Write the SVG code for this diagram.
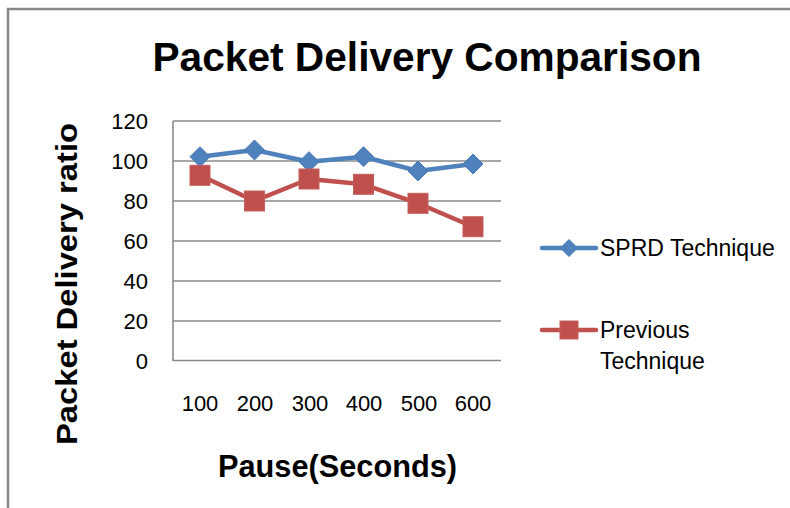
<svg xmlns="http://www.w3.org/2000/svg" width="790" height="508" viewBox="0 0 790 508">
<style>
.grid{stroke:#8a8a8a;stroke-width:1.6;fill:none}
.tick{font-family:"Liberation Sans",Arial,sans-serif;font-size:22px;fill:#000}
.ttl{font-family:"Liberation Sans",Arial,sans-serif;font-weight:bold;fill:#000}
.leg{font-family:"Liberation Sans",Arial,sans-serif;font-size:23px;fill:#000}
.sblue{stroke:#4f81bd;stroke-width:4.5;fill:none;stroke-linejoin:round;stroke-linecap:round}
.sred{stroke:#c0504d;stroke-width:4.5;fill:none;stroke-linejoin:round;stroke-linecap:round}
.mblue{fill:#4f81bd;stroke:#4a7ab5;stroke-width:1}
.mred{fill:#c0504d;stroke:#c4605c;stroke-width:1}
</style>
<rect x="0" y="0" width="790" height="508" fill="#fff"/>
<g id="frame"><path d="M8,508 V9 H790" fill="none" stroke="#888" stroke-width="2.5"/></g>
<g id="title"><text class="ttl" x="427" y="71" font-size="40" text-anchor="middle" textLength="549" lengthAdjust="spacingAndGlyphs">Packet Delivery Comparison</text></g>
<g id="gridlines">
<line class="grid" x1="173" y1="121" x2="501" y2="121"/>
<line class="grid" x1="173" y1="161" x2="501" y2="161"/>
<line class="grid" x1="173" y1="201" x2="501" y2="201"/>
<line class="grid" x1="173" y1="241" x2="501" y2="241"/>
<line class="grid" x1="173" y1="281" x2="501" y2="281"/>
<line class="grid" x1="173" y1="321" x2="501" y2="321"/>
<line class="grid" x1="173" y1="360.5" x2="501" y2="360.5"/>
<line class="grid" x1="173" y1="121" x2="173" y2="361"/>
</g>
<g id="y-axis-labels">
<text class="tick" x="148" y="129" text-anchor="end">120</text>
<text class="tick" x="148" y="169" text-anchor="end">100</text>
<text class="tick" x="148" y="209" text-anchor="end">80</text>
<text class="tick" x="148" y="249" text-anchor="end">60</text>
<text class="tick" x="148" y="289" text-anchor="end">40</text>
<text class="tick" x="148" y="329" text-anchor="end">20</text>
<text class="tick" x="148" y="369" text-anchor="end">0</text>
</g>
<g id="x-axis-labels">
<text class="tick" x="200" y="411" text-anchor="middle">100</text>
<text class="tick" x="255" y="411" text-anchor="middle">200</text>
<text class="tick" x="310" y="411" text-anchor="middle">300</text>
<text class="tick" x="364" y="411" text-anchor="middle">400</text>
<text class="tick" x="419" y="411" text-anchor="middle">500</text>
<text class="tick" x="473" y="411" text-anchor="middle">600</text>
</g>
<g id="y-axis-title"><text class="ttl" font-size="30" x="0" y="0" text-anchor="middle" textLength="322" lengthAdjust="spacingAndGlyphs" transform="translate(77,284) rotate(-90)">Packet Delivery ratio</text></g>
<g id="x-axis-title"><text class="ttl" font-size="31" x="337.5" y="477" text-anchor="middle" textLength="239" lengthAdjust="spacingAndGlyphs">Pause(Seconds)</text></g>
<g id="series-sprd">
<polyline class="sblue" points="200,156.7 254.5,150 309,161.7 363.5,156.7 418,171 473,164"/>
<polygon class="mblue" points="200,146.7 210,156.7 200,166.7 190,156.7"/>
<polygon class="mblue" points="254.5,140 264.5,150 254.5,160 244.5,150"/>
<polygon class="mblue" points="309,151.7 319,161.7 309,171.7 299,161.7"/>
<polygon class="mblue" points="363.5,146.7 373.5,156.7 363.5,166.7 353.5,156.7"/>
<polygon class="mblue" points="418,161 428,171 418,181 408,171"/>
<polygon class="mblue" points="473,154 483,164 473,174 463,164"/>
</g>
<g id="series-previous">
<polyline class="sred" points="200,175.3 254.5,201 309,179 363.5,184.3 418,203.3 473,226.7"/>
<rect class="mred" x="190" y="165.3" width="20" height="20"/>
<rect class="mred" x="244.5" y="191" width="20" height="20"/>
<rect class="mred" x="299" y="169" width="20" height="20"/>
<rect class="mred" x="353.5" y="174.3" width="20" height="20"/>
<rect class="mred" x="408" y="193.3" width="20" height="20"/>
<rect class="mred" x="463" y="216.7" width="20" height="20"/>
</g>
<g id="legend">
<g id="legend-sprd">
<line class="sblue" x1="542" y1="248" x2="596" y2="248"/>
<polygon class="mblue" points="569,239.5 577.5,248 569,256.5 560.5,248"/>
<text class="leg" x="600" y="256">SPRD Technique</text>
</g>
<g id="legend-previous">
<line class="sred" x1="542" y1="330" x2="596" y2="330"/>
<rect class="mred" x="560" y="321" width="18" height="18"/>
<text class="leg" x="600" y="338">Previous</text>
<text class="leg" x="600" y="369">Technique</text>
</g>
</g>
</svg>
